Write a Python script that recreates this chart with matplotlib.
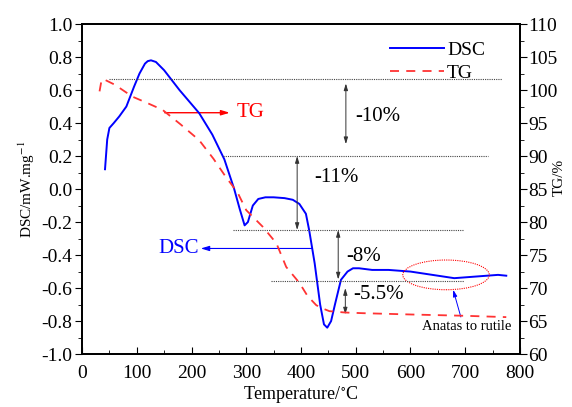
import matplotlib
matplotlib.use("Agg")
import matplotlib.pyplot as plt
from matplotlib.patches import Ellipse
from matplotlib.ticker import MultipleLocator

plt.rcParams["font.family"] = ["Liberation Serif", "DejaVu Serif"]
plt.rcParams["mathtext.fontset"] = "stix"

# DSC curve (temperature / mW.mg-1)
dsc_t = [42, 46, 50, 58, 68, 81, 95, 105, 115, 120, 126, 135, 150, 178, 214, 238, 260, 278, 288,
         297, 303, 312, 322, 335, 350, 370, 385, 397, 409, 415, 425, 435, 442, 448, 455,
         462, 473, 485, 495, 506, 530, 560, 600, 640, 680, 720, 760, 775]
dsc_v = [0.12, 0.30, 0.37, 0.40, 0.44, 0.50, 0.62, 0.70, 0.76, 0.775, 0.78, 0.77, 0.72, 0.60,
         0.46, 0.33, 0.18, 0.00, -0.12, -0.22, -0.20, -0.10, -0.06, -0.05, -0.05, -0.055,
         -0.065, -0.09, -0.15, -0.25, -0.45, -0.70, -0.82, -0.84, -0.80, -0.70, -0.55, -0.50,
         -0.48, -0.48, -0.49, -0.49, -0.50, -0.52, -0.54, -0.53, -0.52, -0.525]

# TG curve (temperature / %)
tg_t = [32, 35, 38, 60, 92, 120, 147, 180, 214, 240, 263, 284, 300, 330, 355, 373, 385,
        397, 412, 428, 440, 452, 480, 512, 600, 700, 775]
tg_v = [99.8, 101.2, 101.7, 100.8, 99.0, 98.0, 97.0, 94.8, 92.4, 89.6, 86.8, 84.5, 81.8,
        79.3, 76.8, 73.2, 72.0, 70.8, 68.8, 67.4, 66.9, 66.5, 66.3, 66.2, 66.0, 65.8, 65.6]

# step levels (TG %) and their x ranges
step_levels = [101.7, 90.0, 78.8, 71.1]
step_start = [50, 257, 275, 345]
step_end = [768, 741, 698, 698]

# mass-loss arrows: x, from level, to level, label
loss_x = [482, 393, 468, 481]
loss_top = [101.0, 90.0, 78.8, 70.0]
loss_bot = [91.8, 78.8, 71.3, 66.0]
loss_lab = ["-10%", "-11%", "-8%", "-5.5%"]
loss_lab_x = [500, 425, 482, 495]
loss_lab_y = [96.0, 86.8, 74.8, 69.0]

fig, ax = plt.subplots(figsize=(5.72, 4.07), dpi=100)
fig.subplots_adjust(left=0.1434, right=0.909, bottom=0.130, top=0.941)
ax2 = ax.twinx()

ax.plot(dsc_t, dsc_v, color="#0000ff", lw=1.4, label="DSC", zorder=5)
ax2.plot(tg_t, tg_v, color="#ff3333", lw=1.3, ls=(0, (5, 4)), label="TG", zorder=4)

for lev, s, e in zip(step_levels, step_start, step_end):
    ax2.plot([s, e], [lev, lev], color="#444444", lw=0.8, ls=(0, (1, 1)), zorder=2)

for x, t, b, lab, lx, ly in zip(loss_x, loss_top, loss_bot, loss_lab, loss_lab_x, loss_lab_y):
    ax2.annotate("", xy=(x, t), xytext=(x, b),
                 arrowprops=dict(arrowstyle="<|-|>,head_length=0.4,head_width=0.12",
                                 color="#333333", lw=0.7, shrinkA=0, shrinkB=0))
    ax2.text(lx, ly, lab, fontsize=15, va="center", ha="left")

# TG / DSC pointers
ax.annotate("", xy=(270, 0.4625), xytext=(151, 0.4625),
            arrowprops=dict(arrowstyle="-|>,head_length=0.5,head_width=0.15",
                            color="red", lw=1.0, shrinkA=0, shrinkB=0))
ax.text(283, 0.4625, "TG", color="red", fontsize=15, va="center", ha="left")
ax.annotate("", xy=(217, -0.36), xytext=(421, -0.36),
            arrowprops=dict(arrowstyle="-|>,head_length=0.5,head_width=0.15",
                            color="#0000ff", lw=0.8, shrinkA=0, shrinkB=0))
ax.text(213, -0.36, "DSC", color="#0000ff", fontsize=15, va="center", ha="right")

# anatase -> rutile marker
ax.add_patch(Ellipse((665, -0.52), 158, 0.18, fill=False, ec="red", lw=0.8,
                     ls=(0, (1, 1)), zorder=6))
ax.annotate("", xy=(678, -0.61), xytext=(692, -0.775),
            arrowprops=dict(arrowstyle="-|>,head_length=0.4,head_width=0.12",
                            color="#0000ff", lw=0.7, shrinkA=0, shrinkB=0))
ax.text(703, -0.835, "Anatas to rutile", fontsize=10.5, ha="center", va="center")

ax.set_xlim(0, 800)
ax.set_ylim(-1.0, 1.0)
ax2.set_ylim(60, 110)
ax.xaxis.set_major_locator(MultipleLocator(100))
ax.xaxis.set_minor_locator(MultipleLocator(50))
ax.yaxis.set_major_locator(MultipleLocator(0.2))
ax.yaxis.set_minor_locator(MultipleLocator(0.1))
ax2.yaxis.set_major_locator(MultipleLocator(5))
ax2.yaxis.set_minor_locator(MultipleLocator(2.5))
ax.yaxis.set_major_formatter(matplotlib.ticker.FormatStrFormatter("%.1f"))

ax.tick_params(axis="x", which="both", direction="in", labelsize=14, pad=8)
ax.tick_params(axis="x", which="major", length=5)
ax.tick_params(axis="x", which="minor", length=3)
ax.tick_params(axis="y", which="both", direction="out", labelsize=14, pad=2)
ax.tick_params(axis="y", which="major", length=5)
ax.tick_params(axis="y", which="minor", length=3)
ax2.tick_params(axis="y", which="both", direction="out", labelsize=14, pad=1)
ax2.tick_params(axis="y", which="major", length=5)
ax2.tick_params(axis="y", which="minor", length=3)
for a in (ax, ax2):
    for sp in a.spines.values():
        sp.set_linewidth(1.3)

ax.set_xlabel("Temperature/$^{\\circ}$C", fontsize=13, labelpad=1)
ax.set_ylabel("DSC/mW.mg$^{-1}$", fontsize=11, labelpad=3)
ax2.set_ylabel("TG/%", fontsize=11)
ax2.yaxis.set_label_coords(1.075, 0.535)

h1, l1 = ax.get_legend_handles_labels()
h2, l2 = ax2.get_legend_handles_labels()
ax.legend(h1 + h2, l1 + l2, loc="upper right", frameon=False, fontsize=14,
          handlelength=2.8, handletextpad=0.15, labelspacing=0.25,
          bbox_to_anchor=(0.96, 1.0))

fig.savefig("out.png", dpi=100)
